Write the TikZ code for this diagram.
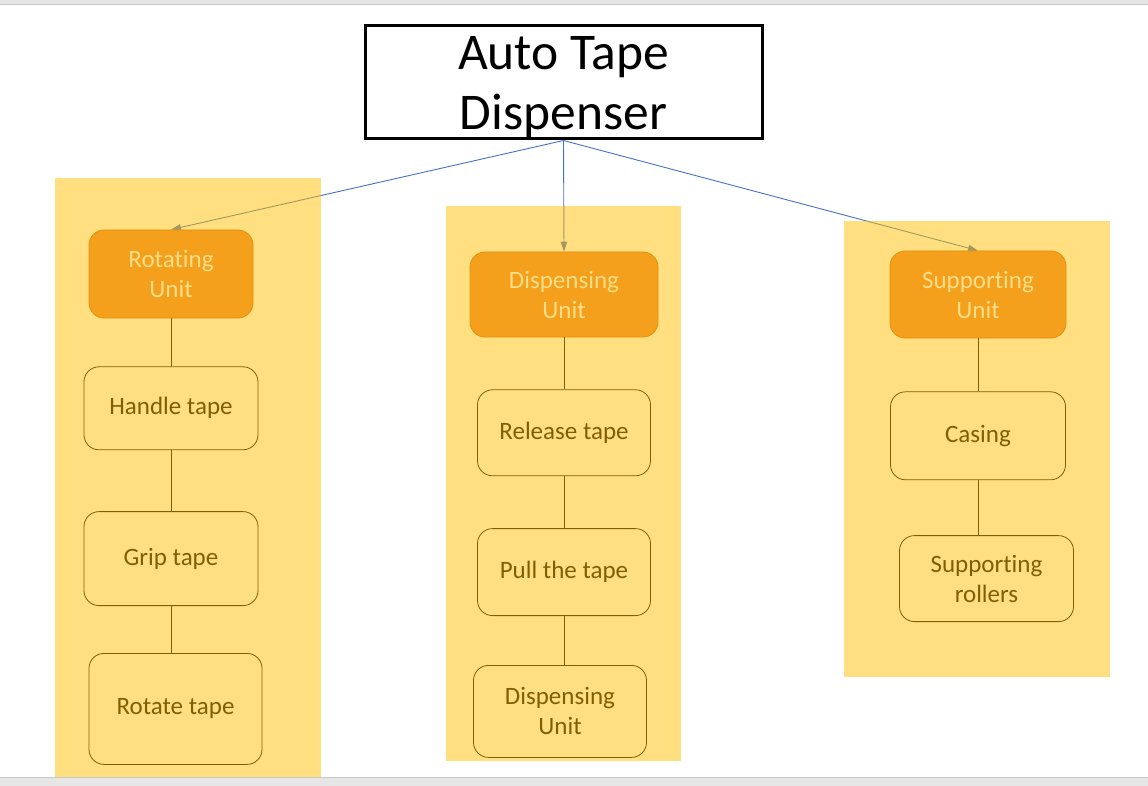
\documentclass[tikz,border=0pt]{standalone}
\usepackage{fontspec}
\setmainfont[Ligatures=NoCommon]{Carlito}
\usepackage{xcolor}
\usepackage{tikz}
\usetikzlibrary{positioning, arrows.meta}

\definecolor{gold}{HTML}{FFC000}
\definecolor{darkorange}{HTML}{F4A01C}
\definecolor{orangeline}{HTML}{E0920F}
\definecolor{paleyellow}{HTML}{FFDE86}
\definecolor{brown}{HTML}{7F6000}
\definecolor{linkblue}{HTML}{4472C4}
\definecolor{bandgrey}{HTML}{E6E6E6}
\definecolor{bandline}{HTML}{C8C8C8}

\pgfdeclarelayer{back}
\pgfdeclarelayer{bg}
\pgfsetlayers{back,bg,main}

\tikzset{
    title/.style={draw, rectangle, line width=3pt, inner sep=0pt, align=center,
        text depth=0pt, font=\fontsize{51.5}{60}\selectfont},
    unit/.style={draw=orangeline, fill=darkorange, rounded corners=15pt, line width=0.8pt,
        inner sep=0pt, align=center, text=paleyellow, font=\fontsize{25}{30}\selectfont},
    task/.style={draw=brown, rounded corners=15pt, line width=0.8pt,
        inner sep=0pt, align=center, text=brown, font=\fontsize{25}{30}\selectfont},
    panel/.style={fill=gold, fill opacity=0.5},
    link/.style={draw=brown, line width=0.8pt},
    feed/.style={draw=linkblue, line width=0.9pt, -{Triangle[length=10pt, width=6.5pt]}}
}

\begin{document}
\begin{tikzpicture}[x=1pt, y=-1pt]
    \useasboundingbox (0,0) rectangle (1148,786);
    % window bands
    \fill[bandgrey] (0,0) rectangle (1148,4);
    \draw[bandline] (0,4) -- (1148,4);
    \fill[bandgrey] (0,777) rectangle (1148,786);
    \draw[bandline] (0,777) -- (1148,777);

    % Title
    \node (tape) [title, minimum width=397pt, minimum height=113pt] at (563.5,82.5) {Auto Tape\\Dispenser};

    % Units
    \node (rot) [unit, minimum width=164pt, minimum height=88pt] at (171,274) {Rotating\\Unit};
    \node (disp) [unit, minimum width=188pt, minimum height=85pt] at (564,294.5) {Dispensing\\Unit};
    \node (supp) [unit, minimum width=176pt, minimum height=87pt] at (978,294.5) {Supporting\\Unit};

    % Rotating unit tasks
    \node (handle) [task, minimum width=174pt, minimum height=83pt, below=48pt of rot] {Handle tape};
    \node (grip) [task, minimum width=174pt, minimum height=94pt, below=61pt of handle] {Grip tape};
    \node (rotate) [task, minimum width=173pt, minimum height=111pt, below=47pt of grip, xshift=4.5pt] {Rotate tape};

    % Dispensing unit tasks
    \node (release) [task, minimum width=173pt, minimum height=86pt, below=52pt of disp] {Release tape};
    \node (pull) [task, minimum width=173pt, minimum height=87pt, below=52pt of release] {Pull the tape};
    \node (dispb) [task, minimum width=173pt, minimum height=92pt, below=49pt of pull, xshift=-4pt] {Dispensing\\Unit};

    % Supporting unit tasks
    \node (casing) [task, minimum width=175pt, minimum height=88pt, below=53pt of supp] {Casing};
    \node (rollers) [task, minimum width=174pt, minimum height=86pt, below=55pt of casing, xshift=8.5pt] {Supporting\\rollers};

    % Links
    \draw[link] (rot) -- (handle);
    \draw[link] (handle) -- (grip);
    \draw[link] (grip.south) -- (grip.south |- rotate.north);
    \draw[link] (disp) -- (release);
    \draw[link] (release) -- (pull);
    \draw[link] (pull.south) -- (pull.south |- dispb.north);
    \draw[link] (supp) -- (casing);
    \draw[link] (casing.south) -- (casing.south |- rollers.north);

    % Panels
    \begin{pgfonlayer}{bg}
        \fill[panel] (55,178) rectangle (321,777);
        \fill[panel] (446,206) rectangle (681,761);
        \fill[panel] (844,221) rectangle (1110,677);
    \end{pgfonlayer}

    % Arrows from the title
    \begin{pgfonlayer}{back}
        \draw[feed] (tape.south) -- (rot.north);
        \draw[feed] (tape.south) -- (disp.north);
        \draw[feed] (tape.south) -- (supp.north);
    \end{pgfonlayer}
\end{tikzpicture}
\end{document}
